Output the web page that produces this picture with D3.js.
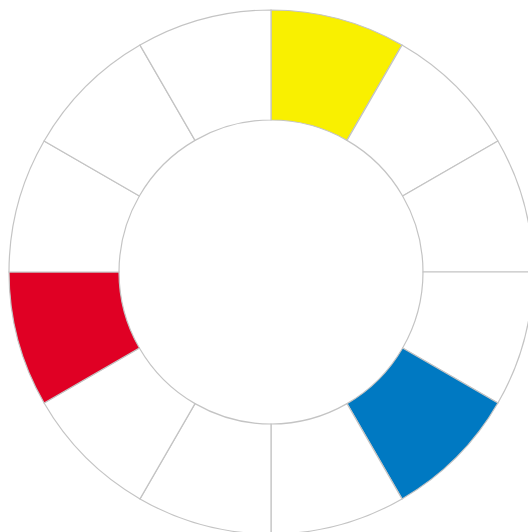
<!DOCTYPE html>
<html>
<head>
<meta charset="utf-8">
<script src="https://cdn.jsdelivr.net/npm/d3@7"></script>
<style>
  html, body { margin: 0; padding: 0; background: #fff; overflow: hidden; }
</style>
</head>
<body>
<svg id="wheel"></svg>
<script>
// 12 equal segments of the colour wheel, clockwise from the top
const segments = ['s1','s2','s3','s4','s5','s6','s7','s8','s9','s10','s11','s12'];
const values = [1,1,1,1,1,1,1,1,1,1,1,1];
const fills = ['#f9f000','#ffffff','#ffffff','#ffffff','#0079c2','#ffffff',
               '#ffffff','#ffffff','#e00024','#ffffff','#ffffff','#ffffff'];

const width = 528;
const height = 532;
const cx = 271, cy = 272;
const outerR = 262, innerR = 152;

let svg = d3.select('#wheel')
    .attr('width', width)
    .attr('height', height)
  .append('g')
    .attr('transform', 'translate(' + cx + ',' + cy + ')');

let pie = d3.pie().sort(null).value(d => d);
let arc = d3.arc().innerRadius(innerR).outerRadius(outerR);

svg.selectAll('path')
    .data(pie(values))
    .enter()
    .append('path')
    .attr('d', arc)
    .attr('fill', (d, i) => fills[i])
    .attr('stroke', '#c4c4c4')
    .attr('stroke-width', 1.2);
</script>
</body>
</html>
